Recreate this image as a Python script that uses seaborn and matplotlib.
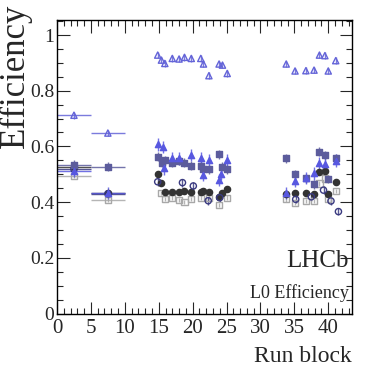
import numpy as np
import pandas as pd
import matplotlib
matplotlib.use("Agg")
import matplotlib.pyplot as plt
import seaborn as sns
from matplotlib.ticker import MultipleLocator

# ---- data ----
x_tri_open = [2.5, 7.5, 14.85, 15.4, 15.9, 17.0, 18.0, 18.8, 19.8, 21.2, 21.6, 22.4, 23.9, 24.4, 25.1,
              33.8, 35.1, 36.7, 37.9, 38.7, 39.5, 40.0, 41.1]
y_tri_open = [0.712, 0.648, 0.928, 0.910, 0.898, 0.916, 0.914, 0.920, 0.916, 0.916, 0.896, 0.854, 0.896, 0.892, 0.862,
              0.896, 0.871, 0.872, 0.874, 0.928, 0.926, 0.871, 0.908]

x_sq_fill = [2.5, 7.5, 14.85, 15.5, 15.9, 17.0, 18.0, 18.8, 19.8, 21.2, 21.6, 22.4, 23.9, 24.4, 25.1,
             33.8, 35.1, 36.7, 37.9, 38.7, 39.5, 40.0, 41.1]
y_sq_fill = [0.535, 0.527, 0.563, 0.541, 0.551, 0.541, 0.548, 0.541, 0.530, 0.530, 0.518, 0.518, 0.572, 0.527, 0.518,
             0.557, 0.500, 0.485, 0.464, 0.581, 0.569, 0.483, 0.557]

x_tri_fill = [2.5, 7.5, 14.85, 15.6, 15.8, 17.0, 18.0, 19.8, 21.2, 21.6, 22.4, 23.9, 24.2, 25.1,
              33.8, 35.1, 36.7, 37.9, 38.7, 39.5, 41.1]
y_tri_fill = [0.512, 0.432, 0.607, 0.599, 0.521, 0.557, 0.557, 0.569, 0.557, 0.497, 0.551, 0.479, 0.500, 0.551,
              0.432, 0.477, 0.487, 0.503, 0.539, 0.537, 0.549]

x_circ_fill = [2.5, 7.5, 14.85, 15.4, 15.9, 17.0, 18.0, 18.8, 19.8, 21.2, 21.6, 22.4, 23.9, 24.4, 25.1,
               33.8, 35.1, 36.7, 37.9, 38.7, 39.5, 40.0, 41.1]
y_circ_fill = [0.525, 0.434, 0.501, 0.467, 0.437, 0.437, 0.437, 0.440, 0.437, 0.437, 0.441, 0.437, 0.419, 0.431, 0.446,
               0.428, 0.432, 0.432, 0.428, 0.507, 0.512, 0.428, 0.471]

x_circ_open = [2.5, 7.5, 14.85, 18.5, 20.1, 22.3, 24.0, 35.2, 37.5, 39.3, 40.4, 41.5]
y_circ_open = [0.518, 0.430, 0.473, 0.470, 0.458, 0.405, 0.416, 0.410, 0.419, 0.443, 0.404, 0.366]

x_sq_open = [2.5, 7.5, 15.3, 15.9, 17.0, 18.0, 18.8, 19.8, 21.2, 22.4, 23.9, 25.1,
             33.8, 35.1, 36.7, 37.9, 38.7, 39.5, 40.0, 41.1]
y_sq_open = [0.495, 0.408, 0.432, 0.411, 0.414, 0.407, 0.400, 0.411, 0.414, 0.414, 0.390, 0.416,
             0.410, 0.398, 0.404, 0.404, 0.467, 0.485, 0.410, 0.440]

xtick_vals = [0, 5, 10, 15, 20, 25, 30, 35, 40]
ytick_vals = [0, 0.2, 0.4, 0.6, 0.8, 1.0]
ytick_labels = ["0", "0.2", "0.4", "0.6", "0.8", "1"]

# ---- styling ----
sns.set_style("ticks")
plt.rcParams['font.family'] = ['Liberation Serif', 'DejaVu Serif']

fig = plt.figure(figsize=(3.84, 3.72), dpi=100)
ax = fig.add_axes([57/384, 1 - 313.5/372, (352-57)/384, (313.5-20)/372])

series = [
    ("open_tri", x_tri_open, y_tri_open, "^", "none", "#6464d8", 0.012),
    ("open_sq", x_sq_open, y_sq_open, "s", "none", "#a8a8a8", 0.008),
    ("fill_circ", x_circ_fill, y_circ_fill, "o", "#333333", "#333333", 0.008),
    ("open_circ", x_circ_open, y_circ_open, "o", "none", "#3a3a80", 0.014),
    ("fill_sq", x_sq_fill, y_sq_fill, "s", "#5c5c9c", "#5c5c9c", 0.016),
    ("fill_tri", x_tri_fill, y_tri_fill, "^", "#5858e0", "#5858e0", 0.022),
]

frames = []
for name, xs, ys, m, fc, ec, err in series:
    xs = np.asarray(xs, float)
    ys = np.asarray(ys, float)
    xerr = np.where(xs < 10, 2.5, 0.0)
    ax.errorbar(xs, ys, xerr=xerr, yerr=err, fmt="none", ecolor=ec, elinewidth=1.0,
                alpha=0.85, zorder=2)
    frames.append(pd.DataFrame({"x": xs, "y": ys, "s": name}))

df = pd.concat(frames, ignore_index=True)
for name, xs, ys, m, fc, ec, err in series:
    sub = df[df.s == name]
    sns.scatterplot(data=sub, x="x", y="y", marker=m, s=20, facecolor=fc, edgecolor=ec,
                    linewidth=1.0, ax=ax, zorder=3, legend=False)

ax.set_xlim(0, 43.5)
ax.set_ylim(0, 1.054)
ax.set_xticks(xtick_vals)
ax.set_xticklabels([str(v) for v in xtick_vals])
ax.set_yticks(ytick_vals)
ax.set_yticklabels(ytick_labels)
ax.xaxis.set_minor_locator(MultipleLocator(1))
ax.yaxis.set_minor_locator(MultipleLocator(0.05))
ax.tick_params(which="both", direction="in", top=True, right=True)
ax.tick_params(axis="y", pad=2, labelsize=14)
ax.tick_params(axis="x", pad=4, labelsize=15)
ax.tick_params(which="major", length=9, width=0.8)
ax.tick_params(which="minor", length=4.5, width=0.8)
ax.set_xlabel("")
ax.set_ylabel("")
for sp in ax.spines.values():
    sp.set_linewidth(1.0)
    sp.set_color("black")

fig.text(15/384, 1 - 4/372, "Efficiency", rotation=90, ha="center", va="top", fontsize=25)
fig.text(352/384, 1 - 357/372, "Run block", ha="right", va="center", fontsize=17)
ax.text(0.99, 0.18, "LHCb", transform=ax.transAxes, ha="right", va="center", fontsize=18)
ax.text(0.99, 0.07, "L0 Efficiency", transform=ax.transAxes, ha="right", va="center", fontsize=13)

fig.savefig("out.png", dpi=100)
